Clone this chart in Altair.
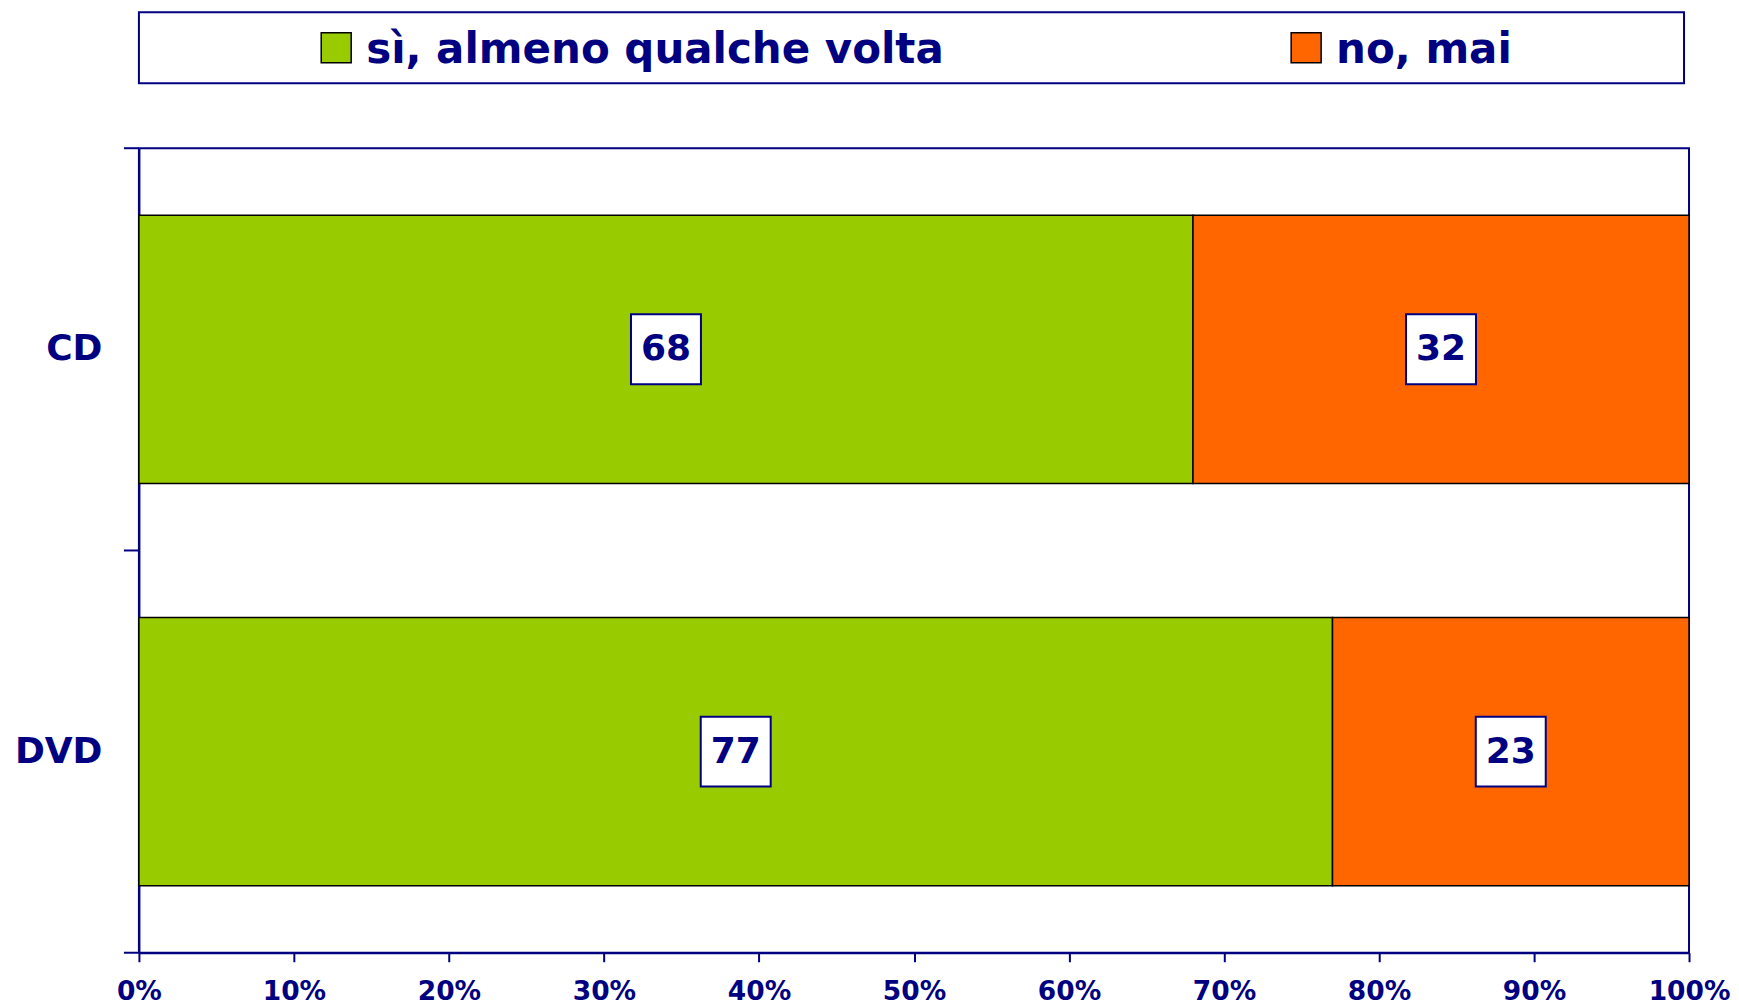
import altair as alt
import pandas as pd

categories = ["CD", "DVD"]
series = ["sì, almeno qualche volta", "no, mai"]
si_values = [68, 77]
no_values = [32, 23]
x_ticks = [0, 10, 20, 30, 40, 50, 60, 70, 80, 90, 100]
colors = ["#99CC00", "#FF6600"]

NAVY = "#000080"
FONT = "DejaVu Sans"

rows = []
for i, c in enumerate(categories):
    rows.append({"cat": c, "series": series[0], "order": 0, "value": si_values[i]})
    rows.append({"cat": c, "series": series[1], "order": 1, "value": no_values[i]})
df = pd.DataFrame(rows)

# category boundaries (Excel-style ticks between categories)
boundaries = pd.DataFrame({"pos": list(range(len(categories) + 1))})

color = alt.Color("series:N", scale=alt.Scale(domain=series, range=colors), legend=None)

base = alt.Chart(df).transform_stack(
    stack="value", groupby=["cat"], as_=["v0", "v1"],
    sort=[alt.SortField("order", order="ascending")]
).transform_calculate(mid="(datum.v0 + datum.v1) / 2")

y_scale = alt.Scale(paddingInner=1 / 3, paddingOuter=1 / 6)
y = alt.Y(
    "cat:N", sort=categories, title=None, scale=y_scale,
    axis=alt.Axis(
        labelFont=FONT, labelFontSize=36, labelFontWeight="bold", labelColor=NAVY,
        labelPadding=37, ticks=False,
        domainColor=NAVY, domainWidth=2, grid=False,
    ),
)

x_scale = alt.Scale(domain=[0, 100], nice=False, zero=True)
x_axis = alt.Axis(
    values=x_ticks, labelExpr="datum.value + '%'", title=None,
    labelFont=FONT, labelFontSize=26.5, labelFontWeight="bold", labelColor=NAVY,
    labelPadding=17, labelFlush=False, labelOverlap=False,
    tickSize=9, tickColor=NAVY, tickWidth=2, domainColor=NAVY, domainWidth=2, grid=False,
)

bars = base.mark_bar(stroke="black", strokeWidth=1.5).encode(
    x=alt.X("v0:Q", scale=x_scale, axis=x_axis),
    x2="v1:Q",
    y=y,
    color=color,
)

boxes = base.mark_square(size=4900, fill="white", stroke=NAVY, strokeWidth=2, opacity=1).encode(
    x=alt.X("mid:Q", scale=x_scale),
    y=alt.Y("cat:N", sort=categories, scale=y_scale),
)

labels = base.mark_text(
    font=FONT, fontSize=36, fontWeight="bold", color=NAVY, baseline="middle", align="center"
).encode(
    x=alt.X("mid:Q", scale=x_scale),
    y=alt.Y("cat:N", sort=categories, scale=y_scale),
    text="value:Q",
)

cat_ticks = alt.Chart(boundaries).mark_rule(color=NAVY, strokeWidth=2).encode(
    x=alt.value(-15),
    x2=alt.value(0),
    y=alt.Y("pos:Q", scale=alt.Scale(domain=[0, len(categories)], nice=False, zero=True), axis=None),
)

inner = alt.layer(bars, boxes, labels)
main = alt.layer(inner, cat_ticks).resolve_scale(y="independent").properties(
    width=1551, height=805
)

leg_df = pd.DataFrame({"series": series})
leg_x = alt.X("series:N", sort=series, scale=alt.Scale(type="point", padding=0.2965, align=0.343), axis=None)

swatch = alt.Chart(leg_df).mark_square(size=900, stroke="black", strokeWidth=1.5, opacity=1).encode(
    x=leg_x, color=color
)
leg_text = alt.Chart(leg_df).mark_text(
    align="left", dx=30, dy=15, baseline="alphabetic",
    font=FONT, fontSize=42, fontWeight="bold", color=NAVY,
).encode(x=leg_x, text="series:N")

legend_chart = alt.layer(swatch, leg_text).properties(width=1546, height=71)

chart = alt.vconcat(legend_chart, main, spacing=65).properties(
    bounds="flush",
    padding={"left": 5, "top": 3, "right": 0, "bottom": 0},
).configure_view(stroke=NAVY, strokeWidth=2)

chart.save("out.html", embed_options={"renderer": "svg", "actions": False})
